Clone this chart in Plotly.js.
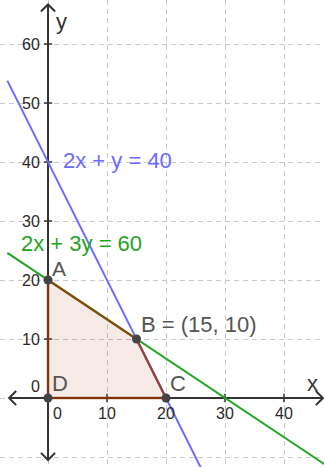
<!DOCTYPE html>
<html>
<head>
<meta charset="utf-8">
<script src="https://cdn.plot.ly/plotly-3.0.1.min.js"></script>
<style>
  html, body { margin: 0; padding: 0; background: #fff; }
  #plot { width: 324px; height: 467px; }
</style>
</head>
<body>
<div id="plot"></div>
<script>
// ticks
const xTicks = [0, 10, 20, 30, 40];
const yTicks = [0, 10, 20, 30, 40, 50, 60];

// constraint lines (end points)
const blueX = [-6.9, 25.9];
const blueY = [53.8, -11.8];
const greenX = [-6.9, 47];
const greenY = [24.6, -11.3];

// feasible region corners
const vertexNames = ["D", "A", "B = (15, 10)", "C"];
const vertexX = [0, 0, 15, 20];
const vertexY = [0, 20, 10, 0];

// equation labels
const eqText = ["2x + y = 40", "2x + 3y = 60"];
const eqX = [2.4, -4.75];
const eqY = [40.3, 26.2];
const eqColor = ["#6b6bff", "#1fa51f"];

const xRange = [-8.14, 46.78];
const yRange = [-11.69, 67.46];
const axX = [-6.6, 46.6];   // x axis line ends
const axY = [-10.5, 66.7];  // y axis line ends
const arm = 1.2;            // arrow chevron size in units

const font = "Liberation Sans, Arial, sans-serif";

// axis lines with open arrow heads at both ends
const axisTrace = {
  x: [axX[0], axX[1], null,
      axX[0] + arm, axX[0], axX[0] + arm, null,
      axX[1] - arm, axX[1], axX[1] - arm, null,
      0, 0, null,
      -arm, 0, arm, null,
      -arm, 0, arm],
  y: [0, 0, null,
      arm, 0, -arm, null,
      arm, 0, -arm, null,
      axY[0], axY[1], null,
      axY[1] - arm, axY[1], axY[1] - arm, null,
      axY[0] + arm, axY[0], axY[0] + arm],
  mode: "lines",
  line: { color: "#333", width: 2 },
  hoverinfo: "skip"
};

const xt = xTicks.filter(v => v !== 0);
const yt = yTicks.filter(v => v !== 0);
const tickTrace = {
  x: xt.concat(yt.map(() => 0)),
  y: xt.map(() => 0).concat(yt),
  mode: "markers",
  marker: {
    symbol: xt.map(() => "line-ns").concat(yt.map(() => "line-ew")),
    size: 6,
    line: { color: "#333", width: 1.5 }
  },
  hoverinfo: "skip"
};

const blueTrace = {
  x: blueX, y: blueY, mode: "lines",
  line: { color: eqColor[0], width: 2 }, hoverinfo: "skip"
};
const greenTrace = {
  x: greenX, y: greenY, mode: "lines",
  line: { color: eqColor[1], width: 2 }, hoverinfo: "skip"
};

const regionTrace = {
  x: vertexX.concat([vertexX[0]]),
  y: vertexY.concat([vertexY[0]]),
  mode: "lines",
  fill: "toself",
  fillcolor: "rgba(153,51,0,0.1)",
  line: { color: "rgba(153,51,0,0.75)", width: 2.5 },
  hoverinfo: "skip"
};

const pointTrace = {
  x: vertexX, y: vertexY, mode: "markers",
  marker: { color: "#444", size: 9 },
  hoverinfo: "skip"
};

const annotations = [];
xTicks.forEach(v => {
  annotations.push({
    x: v, y: 0, xref: "x", yref: "y", text: String(v), showarrow: false,
    xanchor: v === 0 ? "left" : "center", yanchor: "top",
    xshift: v === 0 ? 3 : 0, yshift: -5,
    font: { family: font, size: 16, color: "#2a2a2a" }
  });
});
yTicks.forEach(v => {
  annotations.push({
    x: 0, y: v, xref: "x", yref: "y", text: String(v), showarrow: false,
    xanchor: "right", yanchor: v === 0 ? "bottom" : "middle",
    xshift: -6, yshift: v === 0 ? 1 : 0,
    font: { family: font, size: 16, color: "#2a2a2a" }
  });
});
vertexNames.forEach((name, i) => {
  annotations.push({
    x: vertexX[i], y: vertexY[i], xref: "x", yref: "y", text: name, showarrow: false,
    xanchor: "left", yanchor: "bottom", xshift: 3, yshift: name === "A" ? -1 : 1,
    borderpad: 0,
    font: { family: font, size: name === "A" ? 21 : 22, color: "#555" }
  });
});
eqText.forEach((t, i) => {
  annotations.push({
    x: eqX[i], y: eqY[i], xref: "x", yref: "y", text: t, showarrow: false,
    xanchor: "left", yanchor: "middle", borderpad: 0,
    font: { family: font, size: 22, color: eqColor[i] }
  });
});
annotations.push({
  x: 1.0, y: 66.3, xref: "x", yref: "y", text: "y", showarrow: false,
  xanchor: "left", yanchor: "top", font: { family: font, size: 22, color: "#333" }
});
annotations.push({
  x: 43.6, y: 0, xref: "x", yref: "y", text: "x", showarrow: false,
  xanchor: "left", yanchor: "bottom", yshift: 0, font: { family: font, size: 22, color: "#333" }
});

const gridAxis = {
  showgrid: true, gridcolor: "#c8c8c8", gridwidth: 1, griddash: "5px,4px",
  zeroline: false, showticklabels: false, ticks: "", showline: false,
  tick0: 0, dtick: 10, fixedrange: true
};

const layout = {
  width: 324,
  height: 467,
  margin: { l: 0, r: 0, t: 0, b: 0, pad: 0 },
  showlegend: false,
  paper_bgcolor: "#fff",
  plot_bgcolor: "#fff",
  xaxis: Object.assign({}, gridAxis, { range: xRange }),
  yaxis: Object.assign({}, gridAxis, { range: yRange }),
  annotations: annotations
};

Plotly.newPlot("plot",
  [axisTrace, tickTrace, blueTrace, greenTrace, regionTrace, pointTrace],
  layout, { displayModeBar: false, staticPlot: true });
</script>
</body>
</html>
